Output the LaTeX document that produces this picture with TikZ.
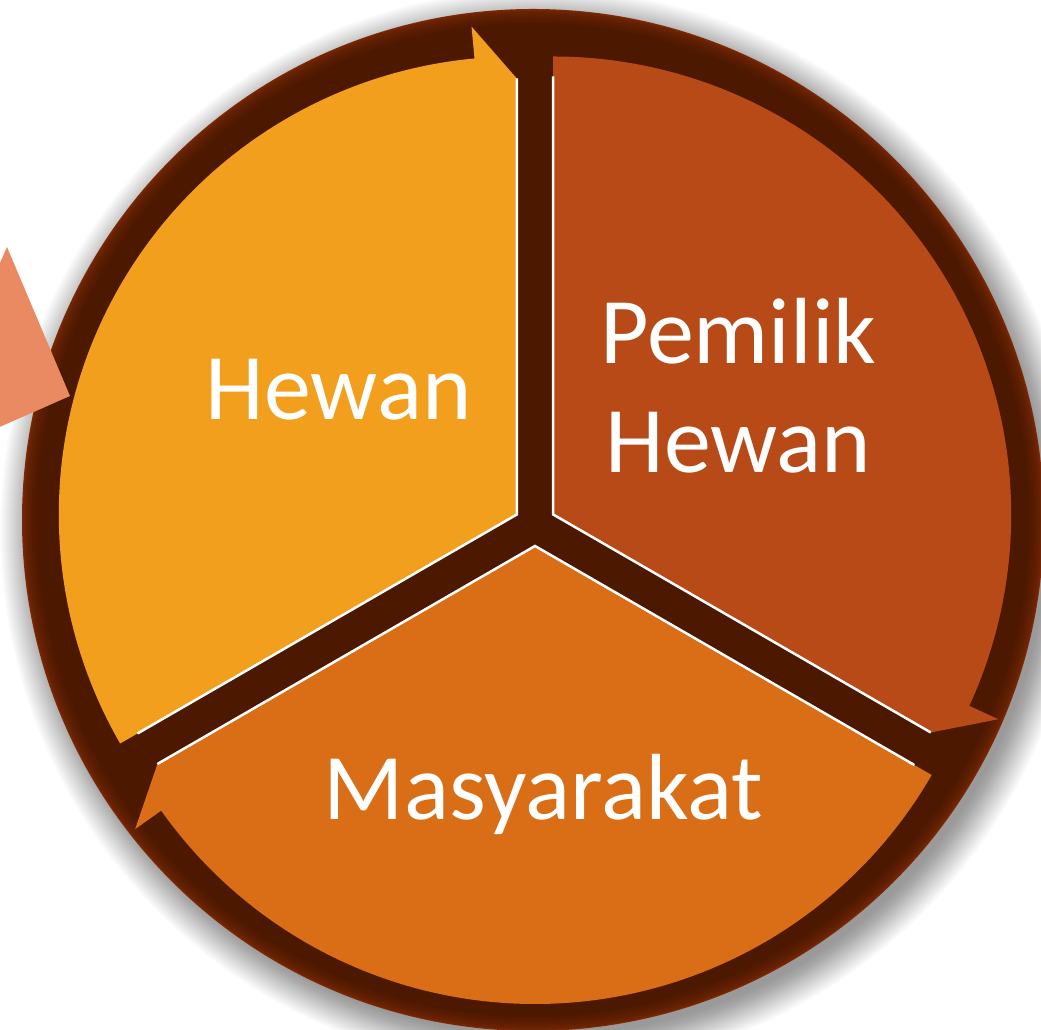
\documentclass[tikz,border=0pt]{standalone}
\usepackage{fontspec}
\setmainfont{Carlito}
\usetikzlibrary{calc}
\definecolor{ringdk}{HTML}{4C1800}
\definecolor{ringrim}{HTML}{7E2A04}
\definecolor{hewanc}{HTML}{F19F1C}
\definecolor{pemilikc}{HTML}{B84A18}
\definecolor{masyc}{HTML}{D96E17}
\definecolor{salmonc}{HTML}{EA8A62}
\newcommand\mysegment[3]{%
  \begin{scope}[shift={#1}]
    \fill[#3] (0,0) -- (#2:458) arc[start angle=#2, end angle=#2-114.7, radius=458]
      -- (#2-114.7:490) -- (#2-120:436) -- cycle;
    \draw[edgeline] (#2:438) -- (0,0) -- (#2-120:436);
  \end{scope}}
\tikzset{
  edgeline/.style={white, line width=2.5pt, line join=miter},
  label/.style={text=white, inner sep=0pt, anchor=base, align=center,
    font=\fontsize{94}{108.7}\selectfont}
}
\begin{document}
\begin{tikzpicture}[x=1pt,y=1pt]
\useasboundingbox (0,0) rectangle (1041,1030);
\clip (0,0) rectangle (1041,1030);
\fill[white] (0,0) rectangle (1041,1030);
\coordinate (oc) at (533,510);
\coordinate (sc) at (541,500);
% soft shadow
\foreach \k in {1,...,36} {\fill[black,opacity=0.011] (sc) circle ({505+\k});}
% dark ring with lighter rim
\foreach \i in {0,...,16} {
  \pgfmathsetmacro\p{100*sqrt(\i/16)}
  \fill[ringdk!\p!ringrim] (oc) circle ({511-\i});
}
% salmon arrow head at left
\fill[salmonc] (7,783) -- (70,634) -- (-89,564) -- cycle;
% segments
\coordinate (ch) at (516.8,515.5);
\coordinate (cp) at (553.2,515.5);
\coordinate (cm) at (535,484);
\mysegment{(ch)}{210}{hewanc}
\mysegment{(cp)}{90}{pemilikc}
\mysegment{(cm)}{-30}{masyc}
% labels
\node[label] (hewan) at (338.7,610.7) {Hewan};
\node[label] (pemilik) at (738.3,557.3) {Pemilik\\Hewan};
\node[label] (masy) at (543.3,210.7) {Masyarakat};
\end{tikzpicture}
\end{document}
